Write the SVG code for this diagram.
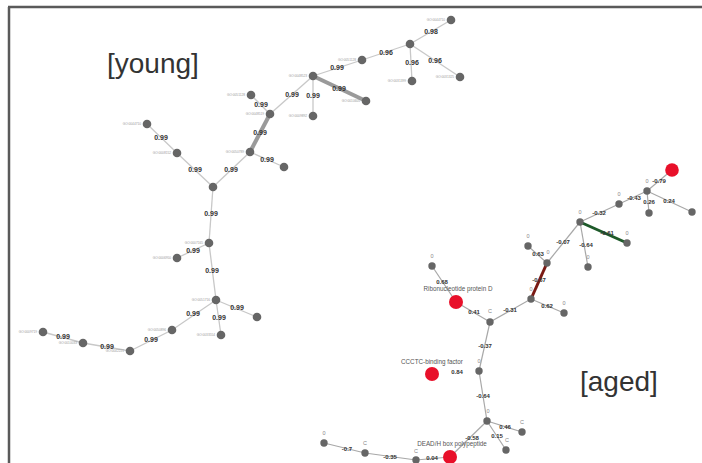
<svg xmlns="http://www.w3.org/2000/svg" width="702" height="463" viewBox="0 0 702 463">
<style>
.e{stroke:#c8c8c8;stroke-width:1.3;fill:none}
.et{stroke:#9a9a9a;stroke-width:4;fill:none}
.ea{stroke:#a8a8a8;stroke-width:1.2;fill:none}
.n{fill:#666}
.r{fill:#e8102a}
.w{font-family:"Liberation Sans",Arial,sans-serif;font-weight:bold;font-size:7px;fill:#333;text-anchor:middle}
.wa{font-family:"Liberation Sans",Arial,sans-serif;font-weight:bold;font-size:6px;fill:#333;text-anchor:middle}
.go{font-family:"Liberation Sans",Arial,sans-serif;font-size:3.2px;fill:#999;text-anchor:end}
.z{font-family:"Liberation Sans",Arial,sans-serif;font-size:5.5px;fill:#888;text-anchor:middle}
.big{font-family:"Liberation Sans",Arial,sans-serif;font-size:28px;fill:#333}
.rl{font-family:"Liberation Sans",Arial,sans-serif;font-size:6.3px;fill:#555;text-anchor:middle}
</style>
<rect width="702" height="463" fill="#fff"/>
<line x1="8" y1="7" x2="702" y2="7" stroke="#5a5a5a" stroke-width="2.5"/>
<line x1="9" y1="7" x2="9" y2="463" stroke="#5a5a5a" stroke-width="2.5"/>
<text class="big" x="107" y="73">[young]</text>
<text class="big" x="580" y="391">[aged]</text>
<g id="connectors">
<line class="e" x1="451" y1="20" x2="410" y2="44"/>
<line class="e" x1="410" y1="44" x2="362" y2="60"/>
<line class="e" x1="410" y1="44" x2="412" y2="81"/>
<line class="e" x1="410" y1="44" x2="460" y2="77"/>
<line class="e" x1="362" y1="60" x2="313" y2="76"/>
<line class="et" x1="313" y1="76" x2="366" y2="101"/>
<line class="e" x1="313" y1="76" x2="313" y2="116"/>
<line class="e" x1="313" y1="76" x2="270" y2="114"/>
<line class="e" x1="251" y1="95" x2="270" y2="114"/>
<line class="et" x1="270" y1="114" x2="250" y2="152"/>
<line class="e" x1="250" y1="152" x2="284" y2="167"/>
<line class="e" x1="250" y1="152" x2="213" y2="187"/>
<line class="e" x1="147" y1="124" x2="177" y2="153"/>
<line class="e" x1="177" y1="153" x2="213" y2="187"/>
<line class="e" x1="213" y1="187" x2="209" y2="243"/>
<line class="e" x1="209" y1="243" x2="177" y2="258"/>
<line class="e" x1="209" y1="243" x2="216" y2="300"/>
<line class="e" x1="216" y1="300" x2="257" y2="317"/>
<line class="e" x1="216" y1="300" x2="221" y2="335"/>
<line class="e" x1="216" y1="300" x2="172" y2="330"/>
<line class="e" x1="172" y1="330" x2="130" y2="351"/>
<line class="e" x1="130" y1="351" x2="83" y2="343"/>
<line class="e" x1="83" y1="343" x2="43" y2="332"/>
<line class="ea" x1="672" y1="170" x2="647" y2="191"/>
<line class="ea" x1="647" y1="191" x2="649" y2="213"/>
<line class="ea" x1="647" y1="191" x2="692" y2="212"/>
<line class="ea" x1="647" y1="191" x2="619" y2="204"/>
<line class="ea" x1="619" y1="204" x2="580" y2="222"/>
<line x1="580" y1="222" x2="627" y2="243" stroke="#1e5a2a" stroke-width="3"/>
<line class="ea" x1="580" y1="222" x2="588" y2="267"/>
<line class="ea" x1="580" y1="222" x2="547" y2="263"/>
<line class="ea" x1="547" y1="263" x2="528" y2="246"/>
<line x1="547" y1="263" x2="531" y2="299" stroke="#7a1a14" stroke-width="3"/>
<line class="ea" x1="531" y1="299" x2="564" y2="313"/>
<line class="ea" x1="531" y1="299" x2="490" y2="322"/>
<line class="ea" x1="490" y1="322" x2="456" y2="302"/>
<line class="ea" x1="456" y1="302" x2="432" y2="266"/>
<line class="ea" x1="490" y1="322" x2="479" y2="371"/>
<line class="ea" x1="479" y1="371" x2="487" y2="421"/>
<line class="ea" x1="487" y1="421" x2="522" y2="432"/>
<line class="ea" x1="487" y1="421" x2="506" y2="450"/>
<line class="ea" x1="487" y1="421" x2="450" y2="457"/>
<line class="ea" x1="450" y1="457" x2="416" y2="460"/>
<line class="ea" x1="416" y1="460" x2="365" y2="453"/>
<line class="ea" x1="365" y1="453" x2="324" y2="443"/>
</g>
<g id="edge-labels">
<text class="w" x="431" y="34">0.98</text>
<text class="w" x="386" y="55">0.96</text>
<text class="w" x="412" y="65">0.96</text>
<text class="w" x="435" y="63">0.96</text>
<text class="w" x="337" y="70">0.99</text>
<text class="w" x="339" y="91">0.99</text>
<text class="w" x="292" y="97">0.99</text>
<text class="w" x="313" y="98">0.99</text>
<text class="w" x="261" y="107">0.99</text>
<text class="w" x="260" y="135">0.99</text>
<text class="w" x="267" y="162">0.99</text>
<text class="w" x="161" y="140">0.99</text>
<text class="w" x="195" y="172">0.99</text>
<text class="w" x="231" y="172">0.99</text>
<text class="w" x="211" y="216">0.99</text>
<text class="w" x="193" y="253">0.99</text>
<text class="w" x="212" y="273">0.99</text>
<text class="w" x="237" y="310">0.99</text>
<text class="w" x="219" y="320">0.99</text>
<text class="w" x="193" y="316">0.99</text>
<text class="w" x="151" y="342">0.99</text>
<text class="w" x="107" y="349">0.99</text>
<text class="w" x="63" y="339">0.99</text>
<text class="wa" x="659" y="183">-0.79</text>
<text class="wa" x="649" y="204">0.26</text>
<text class="wa" x="669" y="203">0.24</text>
<text class="wa" x="634" y="200">-0.43</text>
<text class="wa" x="599" y="215">-0.32</text>
<text class="wa" x="607" y="235">-0.61</text>
<text class="wa" x="586" y="247">-0.64</text>
<text class="wa" x="563" y="244">-0.07</text>
<text class="wa" x="538" y="256">0.63</text>
<text class="wa" x="539" y="282">-0.67</text>
<text class="wa" x="547" y="308">0.62</text>
<text class="wa" x="510" y="312">-0.31</text>
<text class="wa" x="474" y="314">0.41</text>
<text class="wa" x="442" y="284">0.68</text>
<text class="wa" x="485" y="348">-0.37</text>
<text class="wa" x="457" y="374">0.84</text>
<text class="wa" x="483" y="398">-0.64</text>
<text class="wa" x="505" y="429">0.46</text>
<text class="wa" x="497" y="438">0.15</text>
<text class="wa" x="472" y="440">-0.58</text>
<text class="wa" x="432" y="460">0.04</text>
<text class="wa" x="390" y="459">-0.35</text>
<text class="wa" x="347" y="451">-0.7</text>
</g>
<g id="n-top"><circle class="n" cx="451" cy="20" r="4.3"/><text class="go" x="445" y="21">GO:0044710</text></g>
<g id="n-hub1"><circle class="n" cx="410" cy="44" r="4.3"/></g>
<g id="n-a"><circle class="n" cx="362" cy="60" r="4.3"/><text class="go" x="356" y="61">GO:0051128</text></g>
<g id="n-b"><circle class="n" cx="412" cy="81" r="4.3"/><text class="go" x="406" y="82">GO:0031399</text></g>
<g id="n-c"><circle class="n" cx="460" cy="77" r="4.3"/><text class="go" x="454" y="78">GO:0031325</text></g>
<g id="n-hub2"><circle class="n" cx="313" cy="76" r="4.3"/><text class="go" x="307" y="77">GO:0048523</text></g>
<g id="n-d"><circle class="n" cx="366" cy="101" r="4.3"/><text class="go" x="360" y="102">GO:0010605</text></g>
<g id="n-e"><circle class="n" cx="313" cy="116" r="4.3"/><text class="go" x="307" y="117">GO:0009892</text></g>
<g id="n-f"><circle class="n" cx="251" cy="95" r="4.3"/><text class="go" x="245" y="96">GO:0051128</text></g>
<g id="n-g"><circle class="n" cx="270" cy="114" r="4.3"/><text class="go" x="264" y="115">GO:0048519</text></g>
<g id="n-h"><circle class="n" cx="250" cy="152" r="4.3"/><text class="go" x="244" y="153">GO:0050789</text></g>
<g id="n-i"><circle class="n" cx="284" cy="167" r="4.3"/></g>
<g id="n-j"><circle class="n" cx="147" cy="124" r="4.3"/><text class="go" x="141" y="125">GO:0044710</text></g>
<g id="n-k"><circle class="n" cx="177" cy="153" r="4.3"/><text class="go" x="171" y="154">GO:0008152</text></g>
<g id="n-l"><circle class="n" cx="213" cy="187" r="4.3"/></g>
<g id="n-n"><circle class="n" cx="209" cy="243" r="4.3"/><text class="go" x="203" y="244">GO:0007165</text></g>
<g id="n-o"><circle class="n" cx="177" cy="258" r="4.3"/><text class="go" x="171" y="259">GO:0006950</text></g>
<g id="n-p"><circle class="n" cx="216" cy="300" r="4.3"/><text class="go" x="210" y="301">GO:0051716</text></g>
<g id="n-q"><circle class="n" cx="257" cy="317" r="4.3"/></g>
<g id="n-r"><circle class="n" cx="221" cy="335" r="4.3"/><text class="go" x="215" y="336">GO:0033554</text></g>
<g id="n-s"><circle class="n" cx="172" cy="330" r="4.3"/><text class="go" x="166" y="331">GO:0050896</text></g>
<g id="n-t"><circle class="n" cx="130" cy="351" r="4.3"/><text class="go" x="124" y="352">GO:0042221</text></g>
<g id="n-u"><circle class="n" cx="83" cy="343" r="4.3"/><text class="go" x="77" y="344">GO:0010033</text></g>
<g id="n-v"><circle class="n" cx="43" cy="332" r="4.3"/><text class="go" x="37" y="333">GO:0009719</text></g>
<g id="a-r1"><circle class="r" cx="672" cy="170" r="6.8"/></g>
<g id="a-A"><circle class="n" cx="647" cy="191" r="3.7"/><text class="z" x="647" y="183">0</text></g>
<g id="a-B"><circle class="n" cx="649" cy="213" r="3.7"/></g>
<g id="a-C"><circle class="n" cx="692" cy="212" r="3.7"/></g>
<g id="a-D"><circle class="n" cx="619" cy="204" r="3.7"/><text class="z" x="619" y="196">0</text></g>
<g id="a-E"><circle class="n" cx="580" cy="222" r="3.7"/><text class="z" x="580" y="214">0</text></g>
<g id="a-F"><circle class="n" cx="627" cy="243" r="3.7"/><text class="z" x="627" y="235">0</text></g>
<g id="a-G"><circle class="n" cx="588" cy="267" r="3.7"/><text class="z" x="588" y="259">0</text></g>
<g id="a-H"><circle class="n" cx="547" cy="263" r="3.7"/><text class="z" x="548" y="254">0</text></g>
<g id="a-I"><circle class="n" cx="528" cy="246" r="3.7"/><text class="z" x="528" y="238">0</text></g>
<g id="a-J"><circle class="n" cx="531" cy="299" r="3.7"/><text class="z" x="531" y="291">0</text></g>
<g id="a-K"><circle class="n" cx="564" cy="313" r="3.7"/><text class="z" x="564" y="305">0</text></g>
<g id="a-L"><circle class="n" cx="490" cy="322" r="3.7"/><text class="z" x="490" y="313">C</text></g>
<g id="a-r2"><circle class="r" cx="456" cy="302" r="7"/><text class="rl" x="458" y="291">Ribonucleotide protein D</text></g>
<g id="a-M"><circle class="n" cx="432" cy="266" r="3.7"/><text class="z" x="432" y="258">0</text></g>
<g id="a-r3"><circle class="r" cx="432" cy="374" r="7"/><text class="rl" x="432" y="364">CCCTC-binding factor</text></g>
<g id="a-N"><circle class="n" cx="479" cy="371" r="3.7"/><text class="z" x="479" y="363">0</text></g>
<g id="a-O"><circle class="n" cx="487" cy="421" r="3.7"/><text class="z" x="488" y="413">0</text></g>
<g id="a-P"><circle class="n" cx="522" cy="432" r="3.7"/><text class="z" x="522" y="424">C</text></g>
<g id="a-Q"><circle class="n" cx="506" cy="450" r="3.7"/><text class="z" x="507" y="442">C</text></g>
<g id="a-r4"><circle class="r" cx="450" cy="457" r="7"/><text class="rl" x="452" y="446">DEAD/H box polypeptide</text></g>
<g id="a-R"><circle class="n" cx="416" cy="460" r="3.7"/><text class="z" x="416" y="453">C</text></g>
<g id="a-T"><circle class="n" cx="365" cy="453" r="3.7"/><text class="z" x="365" y="445">C</text></g>
<g id="a-S"><circle class="n" cx="324" cy="443" r="3.7"/><text class="z" x="324" y="435">0</text></g>
</svg>
